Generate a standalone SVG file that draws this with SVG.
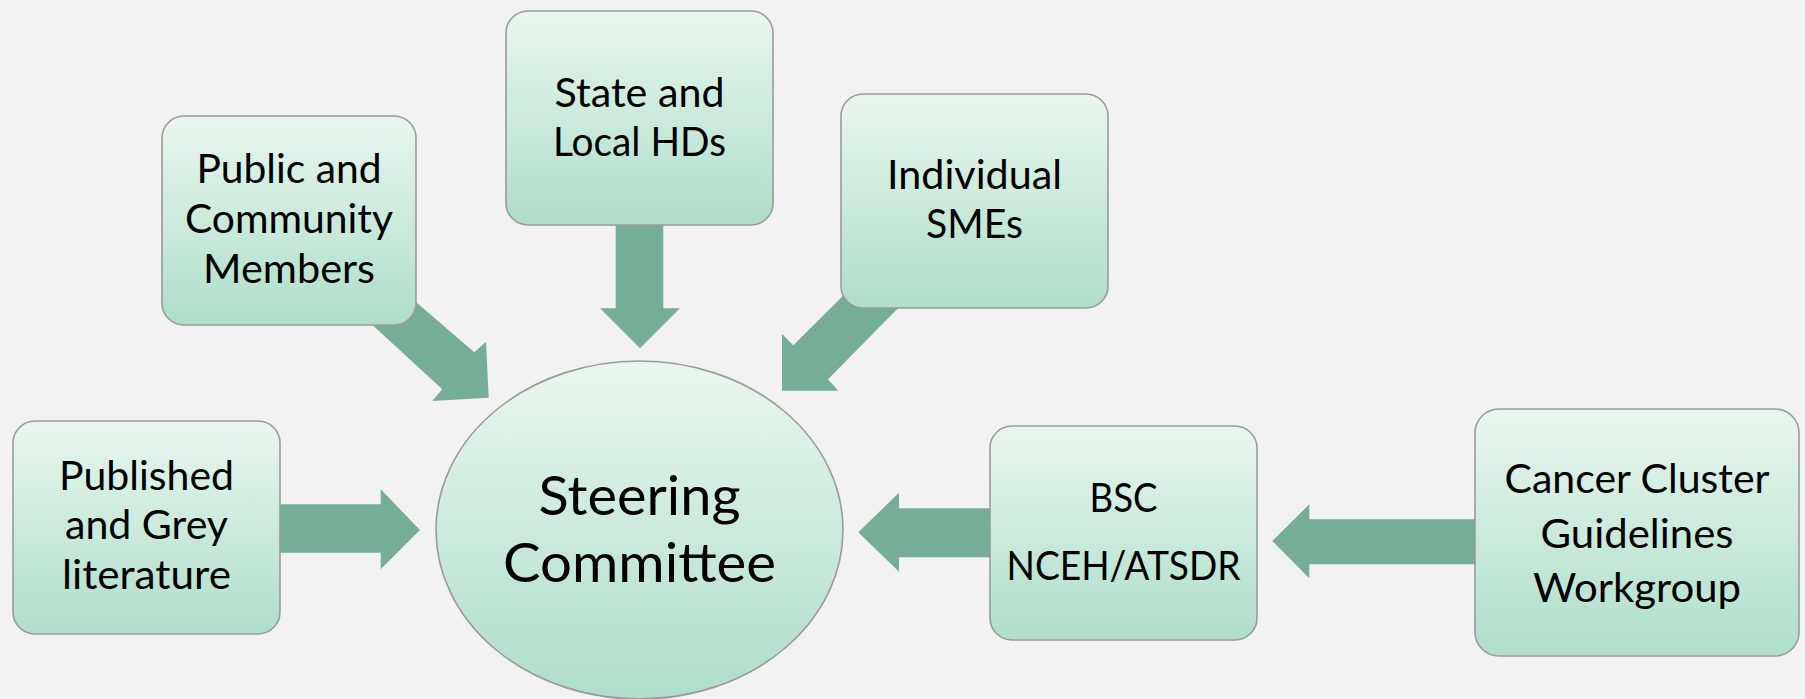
<svg xmlns="http://www.w3.org/2000/svg" width="1805" height="699" viewBox="0 0 1805 699">
  <defs>
    <linearGradient id="g" x1="0" y1="0" x2="0" y2="1">
      <stop offset="0" stop-color="#e9f6ef"/>
      <stop offset="1" stop-color="#afdec9"/>
    </linearGradient>
    <style>
      .box { fill: url(#g); stroke: #9a9a9a; stroke-width: 1.6; }
      .arr { fill: #76ad97; }
      .t { font-family: Lato, "Liberation Sans", sans-serif; font-size: 41px; fill: #000; text-anchor: middle; }
      .big { font-size: 55px; }
    </style>
  </defs>
  <rect width="1805" height="699" fill="#f2f2f2"/>
  <g id="connectors">
    <polygon class="arr" points="280,504.3 380.7,504.3 380.7,489.3 420,530 380.7,569.3 380.7,552.7 280,552.7"/>
    <polygon class="arr" points="395,284 474.3,352.3 486,341.7 488.7,397.7 432.3,401 442.3,389.3 355,309"/>
    <polygon class="arr" points="615.7,220 663.3,220 663.3,308.3 680,308.3 640,348.3 600,308.3 615.7,308.3"/>
    <polygon class="arr" points="862,277 918,288 828,379.3 838.3,390.7 782,390.7 782,334 793.3,345.3"/>
    <polygon class="arr" points="995,508.3 899,508.3 899,492.7 858.3,532.3 899,571.7 899,557.3 995,557.3"/>
    <polygon class="arr" points="1480,519.3 1309.3,519.3 1309.3,504.3 1272.3,541 1309.3,578.3 1309.3,564.3 1480,564.3"/>
  </g>
  <g id="node-published">
    <rect class="box" x="13" y="421" width="267" height="213" rx="22"/>
    <text class="t" x="146.5" y="490" textLength="175" lengthAdjust="spacingAndGlyphs">Published</text>
    <text class="t" x="146.5" y="539.3" textLength="163" lengthAdjust="spacingAndGlyphs">and Grey</text>
    <text class="t" x="146.5" y="589" textLength="169" lengthAdjust="spacingAndGlyphs">literature</text>
  </g>
  <g id="node-public">
    <rect class="box" x="162" y="116" width="254" height="209" rx="22"/>
    <text class="t" x="289" y="183.3" textLength="185" lengthAdjust="spacingAndGlyphs">Public and</text>
    <text class="t" x="289" y="233" textLength="208" lengthAdjust="spacingAndGlyphs">Community</text>
    <text class="t" x="289" y="282.7" textLength="172" lengthAdjust="spacingAndGlyphs">Members</text>
  </g>
  <g id="node-state">
    <rect class="box" x="506" y="11" width="267" height="214" rx="22"/>
    <text class="t" x="639.5" y="107.3" textLength="170" lengthAdjust="spacingAndGlyphs">State and</text>
    <text class="t" x="639.5" y="155.7" textLength="173" lengthAdjust="spacingAndGlyphs">Local HDs</text>
  </g>
  <g id="node-individual">
    <rect class="box" x="841" y="94" width="267" height="214" rx="22"/>
    <text class="t" x="974.5" y="189" textLength="175" lengthAdjust="spacingAndGlyphs">Individual</text>
    <text class="t" x="974.5" y="238.3" textLength="97" lengthAdjust="spacingAndGlyphs">SMEs</text>
  </g>
  <g id="node-steering">
    <ellipse class="box" cx="639.5" cy="530" rx="203.5" ry="169"/>
    <text class="t big" x="639.5" y="515" textLength="202" lengthAdjust="spacingAndGlyphs">Steering</text>
    <text class="t big" x="639.5" y="581.7" textLength="273" lengthAdjust="spacingAndGlyphs">Committee</text>
  </g>
  <g id="node-bsc">
    <rect class="box" x="990" y="426" width="267" height="214" rx="22"/>
    <text class="t" x="1123.5" y="511.7" textLength="68" lengthAdjust="spacingAndGlyphs">BSC</text>
    <text class="t" x="1123.5" y="580" textLength="234" lengthAdjust="spacingAndGlyphs">NCEH/ATSDR</text>
  </g>
  <g id="node-cancer">
    <rect class="box" x="1475" y="409" width="324" height="247" rx="24"/>
    <text class="t" x="1637" y="493.3" textLength="265" lengthAdjust="spacingAndGlyphs">Cancer Cluster</text>
    <text class="t" x="1637" y="547.7" textLength="193" lengthAdjust="spacingAndGlyphs">Guidelines</text>
    <text class="t" x="1637" y="601.7" textLength="208" lengthAdjust="spacingAndGlyphs">Workgroup</text>
  </g>
</svg>
